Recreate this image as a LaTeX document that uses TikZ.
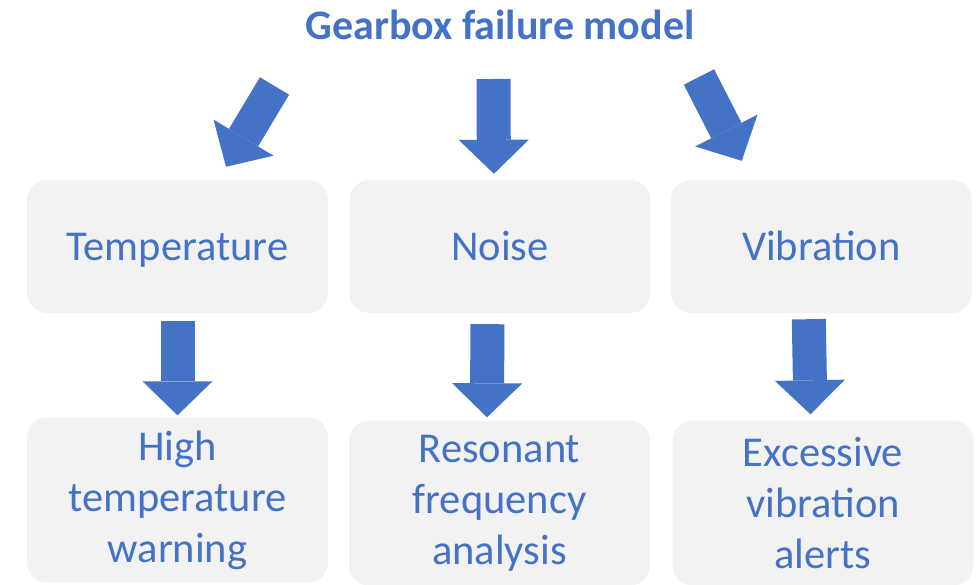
\documentclass[tikz,border=0pt]{standalone}
\usepackage{fontspec}
\setmainfont{Carlito}
\usetikzlibrary{arrows.meta,positioning}
\definecolor{officeblue}{HTML}{4472C4}
\definecolor{boxgray}{HTML}{F2F2F2}
\begin{document}
\begin{tikzpicture}[
x=1pt, y=-1pt,
box/.style={fill=boxgray, rounded corners=20pt, minimum width=301pt, align=center,
  text=officeblue, font=\fontsize{42.5}{51}\selectfont, inner sep=0pt},
topbox/.style={box, minimum height=133pt, text height=32pt, text depth=5pt},
lowbox/.style={box, minimum height=165pt},
bigarrow/.style={draw=officeblue, line width=34pt,
  -{Triangle[length=34pt, width=70pt, line width=0pt]}}
]
\useasboundingbox (0,0) rectangle (979,585);

\node[anchor=base, text=officeblue, font=\bfseries\fontsize{42}{50}\selectfont] (title) at (500,40) {Gearbox failure model};

\node[topbox] (temp) at (177.5,246.5) {Temperature};
\node[topbox, right=21pt of temp] (noise) {Noise};
\node[topbox, right=20pt of noise] (vib) {Vibration};

\node[lowbox] (high) at (177.5,500) {High\\temperature\\warning};
\node[lowbox] (reso) at (499.5,503) {Resonant\\frequency\\analysis};
\node[lowbox] (exc) at (823,503) {Excessive\\vibration\\alerts};

% arrow tails under the title
\coordinate (tailL) at (274.5,86);
\coordinate (tailM) at (493.5,79);
\coordinate (tailR) at (699,77);

\draw[bigarrow] (tailL) -- ([xshift=48.5pt, yshift=13pt]temp.north);
\draw[bigarrow] (tailM) -- ([xshift=-6pt, yshift=6pt]noise.north);
\draw[bigarrow] (tailR) -- ([xshift=-79.5pt, yshift=19pt]vib.north);

\draw[bigarrow] ([yshift=-8pt]temp.south) -- ([yshift=2pt]high.north);
\draw[bigarrow] ([xshift=-12.5pt, yshift=-11pt]noise.south) -- ([xshift=-12.5pt, yshift=3pt]reso.north);
\draw[bigarrow] ([xshift=-12.5pt, yshift=-6pt]vib.south) -- ([xshift=-12.5pt, yshift=6pt]exc.north);
\end{tikzpicture}
\end{document}
